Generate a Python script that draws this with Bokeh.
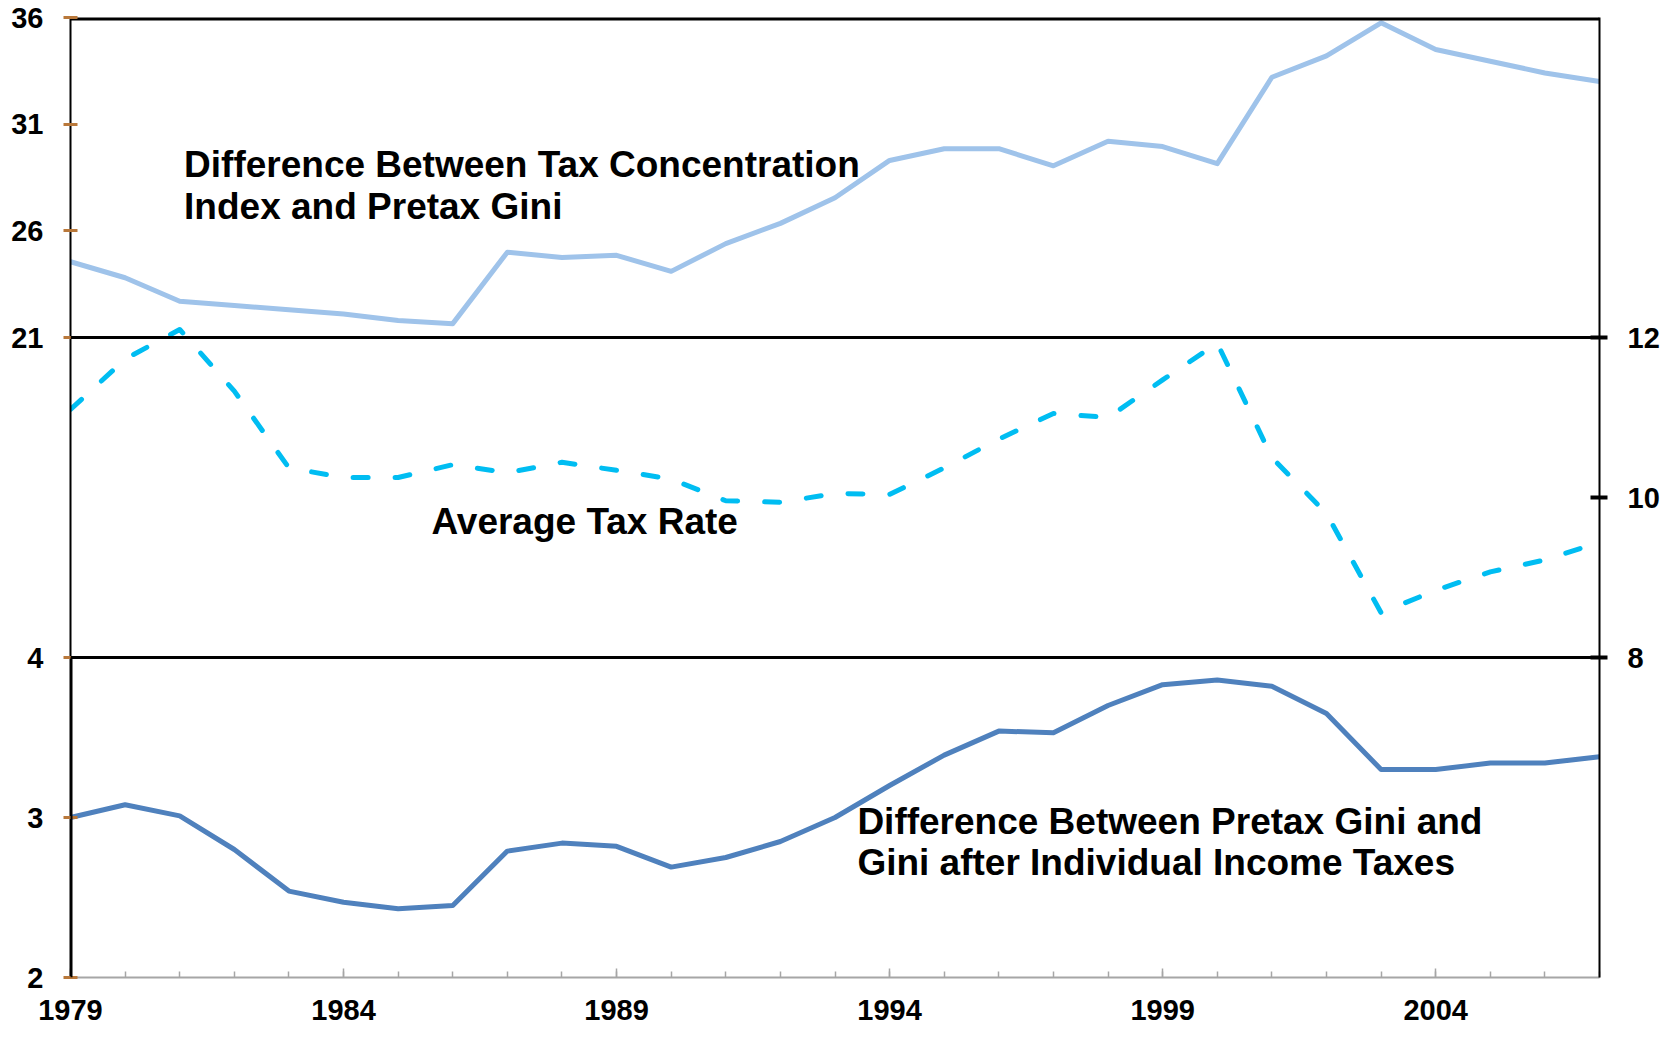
from bokeh.plotting import figure
from bokeh.models import Range1d, LinearAxis, FixedTicker, Label, Span
from bokeh.embed import file_html
from bokeh.resources import INLINE

# ---------------- data ----------------
years = list(range(1979, 2008))
tax_conc_minus_pretax_gini = [24.55, 23.8, 22.7, 22.5, 22.3, 22.1, 21.8, 21.65, 25.0, 24.75,
                              24.85, 24.1, 25.4, 26.35, 27.55, 29.3, 29.85, 29.85, 29.05, 30.2,
                              29.95, 29.15, 33.2, 34.2, 35.75, 34.5, 33.95, 33.4, 33.0]
average_tax_rate = [11.1, 11.73, 12.1, 11.33, 10.37, 10.25, 10.25, 10.41, 10.31, 10.44,
                    10.34, 10.23, 9.96, 9.94, 10.05, 10.04, 10.37, 10.73, 11.05, 11.0,
                    11.47, 11.93, 10.5, 9.8, 8.56, 8.84, 9.07, 9.22, 9.44]
pretax_minus_post_gini = [3.0, 3.08, 3.01, 2.8, 2.54, 2.47, 2.43, 2.45, 2.79, 2.84,
                          2.82, 2.69, 2.75, 2.85, 3.0, 3.2, 3.39, 3.54, 3.53, 3.7,
                          3.83, 3.86, 3.82, 3.65, 3.30, 3.30, 3.34, 3.34, 3.38]

x_ticks = [1979, 1984, 1989, 1994, 1999, 2004]
top_ticks = [21, 26, 31, 36]
mid_ticks = [8, 10, 12]
bot_ticks = [2, 3, 4]

top_label = ["Difference Between Tax Concentration", "Index and Pretax Gini"]
mid_label = ["Average Tax Rate"]
bot_label = ["Difference Between Pretax Gini and", "Gini after Individual Income Taxes"]

# ---------------- styling ----------------
TICK_FONT = "Liberation Sans"
TICK_SIZE = "29px"
NOTE_FONT = "Liberation Sans"
NOTE_SIZE = "37px"

# The frame is split into three equal bands; each series gets its own
# range, mapped onto one band (top / middle / bottom).
top_rng = Range1d(-9, 36)   # 21..36 -> upper band
mid_rng = Range1d(4, 16)    # 8..12  -> middle band
bot_rng = Range1d(2, 8)     # 2..4   -> lower band

p = figure(frame_width=1529, frame_height=960,
           x_range=Range1d(1979, 2007), y_range=Range1d(0, 3),
           output_backend="svg", toolbar_location=None,
           x_axis_location=None, y_axis_location=None,
           min_border_left=70, min_border_right=64, min_border_top=17, min_border_bottom=59)
p.extra_y_ranges = {"top": top_rng, "mid": mid_rng, "bot": bot_rng}
p.grid.visible = False
p.outline_line_color = None
p.background_fill_color = "white"
p.border_fill_color = "white"


def bot_to_top(v):
    f = (v - bot_rng.start) / (bot_rng.end - bot_rng.start)
    return top_rng.start + f * (top_rng.end - top_rng.start)


left_bot_pos = [bot_to_top(v) for v in bot_ticks]
left_overrides = {pos: str(v) for pos, v in zip(left_bot_pos, bot_ticks)}

label_style = dict(major_label_text_font=TICK_FONT, major_label_text_font_style="bold",
                   major_label_text_font_size=TICK_SIZE, major_label_text_color="black",
                   major_label_standoff=20)

# left axis: labels for the upper band (21..36) and lower band (2..4)
left_axis = LinearAxis(y_range_name="top",
                       ticker=FixedTicker(ticks=left_bot_pos + top_ticks),
                       major_label_overrides=left_overrides,
                       major_tick_in=7, major_tick_out=7,
                       major_tick_line_color="#B9783A", major_tick_line_width=3,
                       minor_tick_line_color=None,
                       axis_line_color="black", axis_line_width=2, **label_style)
p.add_layout(left_axis, "left")

# thicker spine along the lower band
bot_spine = LinearAxis(y_range_name="bot", fixed_location=1979, bounds=(2, 4),
                       ticker=FixedTicker(ticks=[]),
                       major_tick_line_color=None, minor_tick_line_color=None,
                       axis_line_color="black", axis_line_width=4)
p.add_layout(bot_spine, "left")

# right axis: middle band (8..12)
right_axis = LinearAxis(y_range_name="mid", ticker=FixedTicker(ticks=mid_ticks),
                        major_tick_in=9, major_tick_out=8,
                        major_tick_line_color="black", major_tick_line_width=4,
                        minor_tick_line_color=None,
                        axis_line_color="black", axis_line_width=2, **label_style)
p.add_layout(right_axis, "right")

# top edge
top_edge = LinearAxis(fixed_location=3, ticker=FixedTicker(ticks=[]),
                      axis_line_color="black", axis_line_width=6,
                      major_tick_line_color=None, minor_tick_line_color=None)
p.add_layout(top_edge, "above")

# band separators
p.add_layout(Span(location=2, dimension="width", line_color="black", line_width=3))
p.add_layout(Span(location=1, dimension="width", line_color="black", line_width=3))

# x axis
xaxis = LinearAxis(ticker=FixedTicker(ticks=x_ticks, minor_ticks=years),
                   axis_line_color="#A6A6A6", axis_line_width=2,
                   major_tick_in=9, major_tick_out=0, major_tick_line_color="#A6A6A6",
                   major_tick_line_width=1.5,
                   minor_tick_in=6, minor_tick_out=0, minor_tick_line_color="#A6A6A6",
                   minor_tick_line_width=1.5,
                   major_label_text_font=TICK_FONT, major_label_text_font_style="bold",
                   major_label_text_font_size=TICK_SIZE, major_label_text_color="black",
                   major_label_standoff=22)
p.add_layout(xaxis, "below")

# series
p.line(years, tax_conc_minus_pretax_gini, y_range_name="top", line_color="#9FC3EA",
       line_width=5, line_join="round", line_cap="round")
p.line(years, average_tax_rate, y_range_name="mid", line_color="#00BDF2", line_width=5,
       line_dash="15 27", line_cap="round", line_join="round")
p.line(years, pretax_minus_post_gini, y_range_name="bot", line_color="#4F81BD",
       line_width=5, line_join="round", line_cap="round")


def note(x, y, text, rng):
    p.add_layout(Label(x=x, y=y, y_range_name=rng, text=text, text_font=NOTE_FONT,
                       text_font_style="bold", text_font_size=NOTE_SIZE, text_color="black",
                       text_baseline="middle", text_align="left"))


note(1981.08, 29.12, top_label[0], "top")
note(1981.08, 27.16, top_label[1], "top")
note(1985.61, 9.70, mid_label[0], "mid")
note(1993.41, 2.975, bot_label[0], "bot")
note(1993.41, 2.72, bot_label[1], "bot")

with open("out.html", "w") as f:
    f.write(file_html(p, INLINE))
